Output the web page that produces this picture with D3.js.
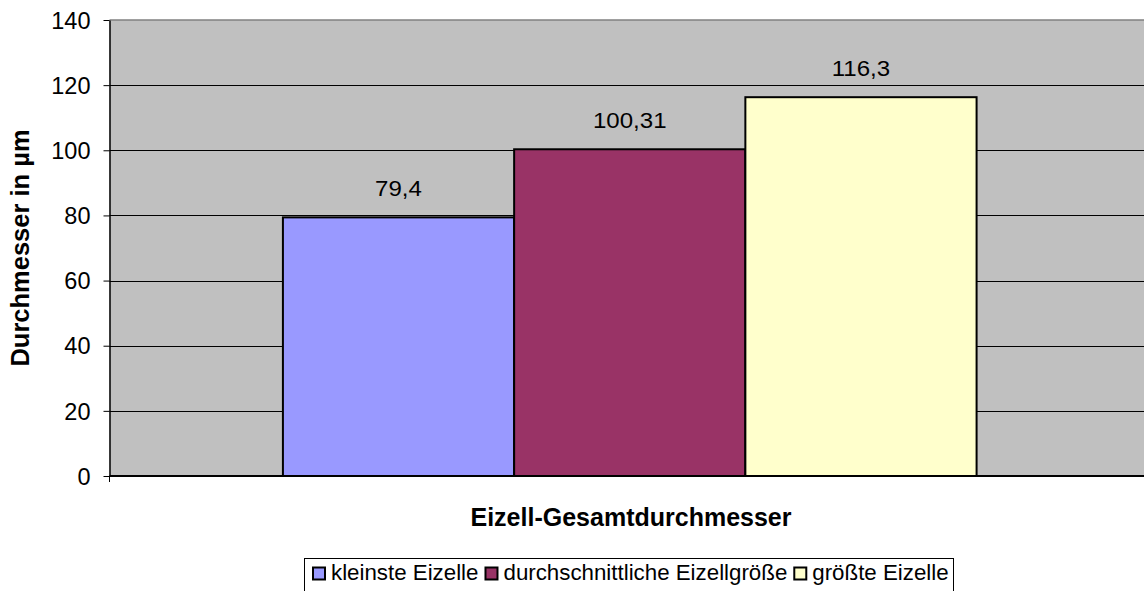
<!DOCTYPE html>
<html>
<head>
<meta charset="utf-8">
<script src="https://cdn.jsdelivr.net/npm/d3@7"></script>
<style>
  body { margin: 0; background: #fff; }
  text { font-family: "Liberation Sans", Arial, sans-serif; }
</style>
</head>
<body>
<svg id="chart" width="1144" height="591"></svg>
<script>
const categories = ["Eizell-Gesamtdurchmesser"];
const seriesNames = ["kleinste Eizelle", "durchschnittliche Eizellgröße", "größte Eizelle"];
const seriesValues = [79.4, 100.31, 116.3];
const seriesLabels = ["79,4", "100,31", "116,3"];
const seriesColors = ["#9999FF", "#993366", "#FFFFCC"];
const yTicks = [0, 20, 40, 60, 80, 100, 120, 140];

const margin = { top: 20, right: -6, bottom: 115, left: 109.5 };
const width = 1144 - margin.left - margin.right;
const height = 591 - margin.top - margin.bottom;

const svg = d3.select("#chart");
const g = svg.append("g").attr("transform", `translate(${margin.left},${margin.top})`);

const x0 = d3.scaleBand().domain(categories).range([0, width]);
// group takes 3 of 4.5 bar widths (gap width 50%)
const groupW = x0.bandwidth() * (3 / 4.5);
const x1 = d3.scaleBand().domain(seriesNames).range([0, groupW]);
const y = d3.scaleLinear().domain([0, 140]).range([height, 0]);

// plot background
g.append("rect").attr("width", width).attr("height", height).attr("fill", "#C0C0C0");
g.append("line").attr("x1", 0).attr("x2", width).attr("y1", 0).attr("y2", 0)
  .attr("stroke", "#808080").attr("stroke-width", 1.5);

// gridlines
g.selectAll(".grid").data(yTicks.filter(d => d > 0 && d < 140)).join("line")
  .attr("x1", 0).attr("x2", width)
  .attr("y1", d => Math.round(y(d)) + 0.5).attr("y2", d => Math.round(y(d)) + 0.5)
  .attr("stroke", "#000").attr("stroke-width", 1);

// bars
const offset = (x0.bandwidth() - groupW) / 2;
const rows = seriesNames.map((s, i) => ({ s, v: seriesValues[i], c: seriesColors[i], l: seriesLabels[i] }));
const grp = g.selectAll(".cat").data(categories).join("g")
  .attr("transform", d => `translate(${x0(d) + offset},0)`);
grp.selectAll("rect").data(rows).join("rect")
  .attr("x", d => x1(d.s))
  .attr("y", d => y(d.v))
  .attr("width", x1.bandwidth())
  .attr("height", d => height - y(d.v))
  .attr("fill", d => d.c)
  .attr("stroke", "#000").attr("stroke-width", 2);

grp.selectAll(".val").data(rows).join("text")
  .attr("transform", d => `translate(${x1(d.s) + x1.bandwidth() / 2},${y(d.v) - 21}) scale(1.12,1)`)
  .attr("text-anchor", "middle")
  .attr("font-size", 21.5)
  .text(d => d.l);

// axes
const yAxis = g.append("g").call(d3.axisLeft(y).tickValues(yTicks).tickSize(6).tickSizeOuter(0).tickPadding(13));
yAxis.select(".domain").attr("stroke", "#000").attr("stroke-width", 1.5);
yAxis.selectAll("text").attr("font-size", 23.5).attr("fill", "#000")
  .attr("font-family", "Liberation Sans, Arial, sans-serif")
  .attr("dy", "0.35em");
yAxis.selectAll("line").attr("stroke", "#000");

g.append("line").attr("x1", 0).attr("x2", width).attr("y1", height).attr("y2", height)
  .attr("stroke", "#000").attr("stroke-width", 2);
g.append("line").attr("x1", 0).attr("x2", 0).attr("y1", height).attr("y2", height + 6)
  .attr("stroke", "#000");

// axis titles
svg.append("text")
  .attr("x", 631).attr("y", 526)
  .attr("text-anchor", "middle").attr("font-size", 25).attr("font-weight", "bold")
  .text(categories[0]);

svg.append("text")
  .attr("transform", `translate(29,${margin.top + height / 2}) rotate(-90)`)
  .attr("text-anchor", "middle").attr("font-size", 25.5).attr("font-weight", "bold")
  .text("Durchmesser in µm");

// legend
const legend = svg.append("g").attr("transform", "translate(304,558)");
legend.append("rect").attr("x", 0.5).attr("y", 0.5).attr("width", 649).attr("height", 40)
  .attr("fill", "#fff").attr("stroke", "#000").attr("stroke-width", 1);
let lx = 9;
seriesNames.forEach((s, i) => {
  legend.append("rect").attr("x", lx).attr("y", 9.5).attr("width", 12).attr("height", 12)
    .attr("fill", seriesColors[i]).attr("stroke", "#000").attr("stroke-width", 2);
  const t = legend.append("text").attr("x", lx + 18).attr("y", 22).attr("font-size", 22.3).text(s);
  lx += 18 + t.node().getComputedTextLength() + 7;
});
</script>
</body>
</html>
